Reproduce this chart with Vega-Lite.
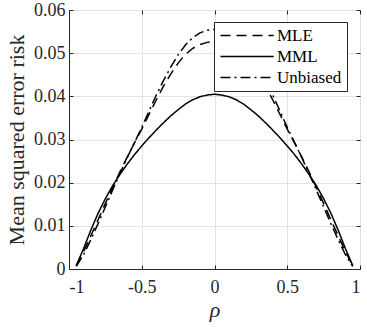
{
  "$schema": "https://vega.github.io/schema/vega-lite/v6.json",
  "width": 291,
  "height": 259,
  "autosize": {"type": "none"},
  "padding": {"left": 69, "top": 10, "right": 7, "bottom": 58},
  "background": "white",
  "config": {
    "view": {"stroke": "#262626", "strokeWidth": 1},
    "font": "Liberation Serif, Times New Roman, serif",
    "axis": {"labelFont": "Liberation Serif, Times New Roman, serif", "titleFont": "Liberation Serif, Times New Roman, serif", "labelColor": "#262626", "titleColor": "#262626", "domainColor": "#262626", "tickColor": "#262626"}
  },
  "datasets": {
    "curves": [
      {"rho": -0.95, "v": 0.0008, "est": "MLE"},
      {"rho": -0.9, "v": 0.0040, "est": "MLE"},
      {"rho": -0.85, "v": 0.0077, "est": "MLE"},
      {"rho": -0.8, "v": 0.0114, "est": "MLE"},
      {"rho": -0.75, "v": 0.0152, "est": "MLE"},
      {"rho": -0.7, "v": 0.0189, "est": "MLE"},
      {"rho": -0.65, "v": 0.0225, "est": "MLE"},
      {"rho": -0.6, "v": 0.0259, "est": "MLE"},
      {"rho": -0.55, "v": 0.0292, "est": "MLE"},
      {"rho": -0.5, "v": 0.0324, "est": "MLE"},
      {"rho": -0.45, "v": 0.0358, "est": "MLE"},
      {"rho": -0.4, "v": 0.0392, "est": "MLE"},
      {"rho": -0.35, "v": 0.0424, "est": "MLE"},
      {"rho": -0.3, "v": 0.0452, "est": "MLE"},
      {"rho": -0.25, "v": 0.0477, "est": "MLE"},
      {"rho": -0.2, "v": 0.0497, "est": "MLE"},
      {"rho": -0.15, "v": 0.0511, "est": "MLE"},
      {"rho": -0.1, "v": 0.052, "est": "MLE"},
      {"rho": -0.05, "v": 0.0525, "est": "MLE"},
      {"rho": 0, "v": 0.0527, "est": "MLE"},
      {"rho": 0.05, "v": 0.0525, "est": "MLE"},
      {"rho": 0.1, "v": 0.052, "est": "MLE"},
      {"rho": 0.15, "v": 0.0511, "est": "MLE"},
      {"rho": 0.2, "v": 0.0497, "est": "MLE"},
      {"rho": 0.25, "v": 0.0477, "est": "MLE"},
      {"rho": 0.3, "v": 0.0452, "est": "MLE"},
      {"rho": 0.35, "v": 0.0424, "est": "MLE"},
      {"rho": 0.4, "v": 0.0392, "est": "MLE"},
      {"rho": 0.45, "v": 0.0358, "est": "MLE"},
      {"rho": 0.5, "v": 0.0324, "est": "MLE"},
      {"rho": 0.55, "v": 0.0292, "est": "MLE"},
      {"rho": 0.6, "v": 0.0259, "est": "MLE"},
      {"rho": 0.65, "v": 0.0225, "est": "MLE"},
      {"rho": 0.7, "v": 0.0189, "est": "MLE"},
      {"rho": 0.75, "v": 0.0152, "est": "MLE"},
      {"rho": 0.8, "v": 0.0114, "est": "MLE"},
      {"rho": 0.85, "v": 0.0077, "est": "MLE"},
      {"rho": 0.9, "v": 0.0040, "est": "MLE"},
      {"rho": 0.95, "v": 0.0008, "est": "MLE"},
      {"rho": -0.95, "v": 0.0008, "est": "MML"},
      {"rho": -0.9, "v": 0.0047, "est": "MML"},
      {"rho": -0.85, "v": 0.0090, "est": "MML"},
      {"rho": -0.8, "v": 0.0129, "est": "MML"},
      {"rho": -0.75, "v": 0.0163, "est": "MML"},
      {"rho": -0.7, "v": 0.0193, "est": "MML"},
      {"rho": -0.65, "v": 0.0219, "est": "MML"},
      {"rho": -0.6, "v": 0.0243, "est": "MML"},
      {"rho": -0.55, "v": 0.0265, "est": "MML"},
      {"rho": -0.5, "v": 0.0285, "est": "MML"},
      {"rho": -0.45, "v": 0.0304, "est": "MML"},
      {"rho": -0.4, "v": 0.0322, "est": "MML"},
      {"rho": -0.35, "v": 0.0339, "est": "MML"},
      {"rho": -0.3, "v": 0.0355, "est": "MML"},
      {"rho": -0.25, "v": 0.0369, "est": "MML"},
      {"rho": -0.2, "v": 0.0382, "est": "MML"},
      {"rho": -0.15, "v": 0.0392, "est": "MML"},
      {"rho": -0.1, "v": 0.0399, "est": "MML"},
      {"rho": -0.05, "v": 0.0403, "est": "MML"},
      {"rho": 0, "v": 0.0405, "est": "MML"},
      {"rho": 0.05, "v": 0.0403, "est": "MML"},
      {"rho": 0.1, "v": 0.0399, "est": "MML"},
      {"rho": 0.15, "v": 0.0392, "est": "MML"},
      {"rho": 0.2, "v": 0.0382, "est": "MML"},
      {"rho": 0.25, "v": 0.0369, "est": "MML"},
      {"rho": 0.3, "v": 0.0355, "est": "MML"},
      {"rho": 0.35, "v": 0.0339, "est": "MML"},
      {"rho": 0.4, "v": 0.0322, "est": "MML"},
      {"rho": 0.45, "v": 0.0304, "est": "MML"},
      {"rho": 0.5, "v": 0.0285, "est": "MML"},
      {"rho": 0.55, "v": 0.0265, "est": "MML"},
      {"rho": 0.6, "v": 0.0243, "est": "MML"},
      {"rho": 0.65, "v": 0.0219, "est": "MML"},
      {"rho": 0.7, "v": 0.0193, "est": "MML"},
      {"rho": 0.75, "v": 0.0163, "est": "MML"},
      {"rho": 0.8, "v": 0.0129, "est": "MML"},
      {"rho": 0.85, "v": 0.0090, "est": "MML"},
      {"rho": 0.9, "v": 0.0047, "est": "MML"},
      {"rho": 0.95, "v": 0.0008, "est": "MML"},
      {"rho": -0.95, "v": 0.0006, "est": "Unbiased"},
      {"rho": -0.9, "v": 0.0033, "est": "Unbiased"},
      {"rho": -0.85, "v": 0.0068, "est": "Unbiased"},
      {"rho": -0.8, "v": 0.0105, "est": "Unbiased"},
      {"rho": -0.75, "v": 0.0144, "est": "Unbiased"},
      {"rho": -0.7, "v": 0.0183, "est": "Unbiased"},
      {"rho": -0.65, "v": 0.0221, "est": "Unbiased"},
      {"rho": -0.6, "v": 0.0258, "est": "Unbiased"},
      {"rho": -0.55, "v": 0.0293, "est": "Unbiased"},
      {"rho": -0.5, "v": 0.0328, "est": "Unbiased"},
      {"rho": -0.45, "v": 0.0366, "est": "Unbiased"},
      {"rho": -0.4, "v": 0.0403, "est": "Unbiased"},
      {"rho": -0.35, "v": 0.0437, "est": "Unbiased"},
      {"rho": -0.3, "v": 0.0468, "est": "Unbiased"},
      {"rho": -0.25, "v": 0.0496, "est": "Unbiased"},
      {"rho": -0.2, "v": 0.0519, "est": "Unbiased"},
      {"rho": -0.15, "v": 0.0536, "est": "Unbiased"},
      {"rho": -0.1, "v": 0.0547, "est": "Unbiased"},
      {"rho": -0.05, "v": 0.0553, "est": "Unbiased"},
      {"rho": 0, "v": 0.0555, "est": "Unbiased"},
      {"rho": 0.05, "v": 0.0553, "est": "Unbiased"},
      {"rho": 0.1, "v": 0.0547, "est": "Unbiased"},
      {"rho": 0.15, "v": 0.0536, "est": "Unbiased"},
      {"rho": 0.2, "v": 0.0519, "est": "Unbiased"},
      {"rho": 0.25, "v": 0.0496, "est": "Unbiased"},
      {"rho": 0.3, "v": 0.0468, "est": "Unbiased"},
      {"rho": 0.35, "v": 0.0437, "est": "Unbiased"},
      {"rho": 0.4, "v": 0.0403, "est": "Unbiased"},
      {"rho": 0.45, "v": 0.0366, "est": "Unbiased"},
      {"rho": 0.5, "v": 0.0328, "est": "Unbiased"},
      {"rho": 0.55, "v": 0.0293, "est": "Unbiased"},
      {"rho": 0.6, "v": 0.0258, "est": "Unbiased"},
      {"rho": 0.65, "v": 0.0221, "est": "Unbiased"},
      {"rho": 0.7, "v": 0.0183, "est": "Unbiased"},
      {"rho": 0.75, "v": 0.0144, "est": "Unbiased"},
      {"rho": 0.8, "v": 0.0105, "est": "Unbiased"},
      {"rho": 0.85, "v": 0.0068, "est": "Unbiased"},
      {"rho": 0.9, "v": 0.0033, "est": "Unbiased"},
      {"rho": 0.95, "v": 0.0006, "est": "Unbiased"}
    ]
  },
  "data": {"name": "curves"},
  "layer": [
    {
      "mark": {"type": "line", "strokeOpacity": 0},
      "encoding": {
        "x": {"field": "rho", "type": "quantitative", "scale": {"domain": [-1, 1], "nice": false},
          "axis": {"orient": "top", "title": null, "labels": false, "grid": false, "values": [-1, -0.5, 0, 0.5, 1], "tickSize": -4, "domain": false}},
        "y": {"field": "v", "type": "quantitative", "scale": {"domain": [0, 0.06], "nice": false, "zero": false},
          "axis": {"orient": "right", "title": null, "labels": false, "grid": false, "values": [0, 0.01, 0.02, 0.03, 0.04, 0.05, 0.06], "tickSize": -4, "domain": false}},
        "detail": {"field": "est"}
      }
    },
    {
      "mark": {"type": "line", "color": "black", "strokeWidth": 1.5},
      "encoding": {
        "x": {"field": "rho", "type": "quantitative",
          "axis": {"orient": "bottom", "title": "ρ", "titleFontStyle": "italic", "titleFontWeight": "normal", "titleFontSize": 22, "titlePadding": 3,
            "values": [-1, -0.5, 0, 0.5, 1], "labelExpr": "'' + datum.value", "labelFontSize": 18, "labelPadding": 13, "tickSize": -4,
            "grid": true, "gridColor": "#e3e3e3", "gridWidth": 1, "domainColor": "#262626"}},
        "y": {"field": "v", "type": "quantitative",
          "axis": {"orient": "left", "title": "Mean squared error risk", "titleFontWeight": "normal", "titleFontSize": 22, "titlePadding": 5,
            "values": [0, 0.01, 0.02, 0.03, 0.04, 0.05, 0.06], "labelExpr": "'' + datum.value", "labelFontSize": 18, "labelPadding": 8, "tickSize": -4,
            "grid": true, "gridColor": "#e3e3e3", "gridWidth": 1, "domainColor": "#262626"}},
        "strokeDash": {"field": "est", "type": "nominal",
          "scale": {"domain": ["MLE", "MML", "Unbiased"], "range": [[10, 6], [1, 0], [10, 4, 2, 4]]},
          "legend": {"title": null, "orient": "none", "legendX": 145, "legendY": 12, "fillColor": "white", "strokeColor": "#262626",
            "padding": 5, "symbolType": "M-1,0H6.6", "symbolSize": 196, "symbolStrokeWidth": 1.5, "symbolStrokeColor": "black",
            "labelFont": "Liberation Serif, Times New Roman, serif", "labelFontSize": 17, "labelColor": "black", "rowPadding": 3, "labelOffset": 41, "symbolOffset": 0}}
      }
    }
  ],
  "resolve": {"axis": {"x": "independent", "y": "independent"}}
}
